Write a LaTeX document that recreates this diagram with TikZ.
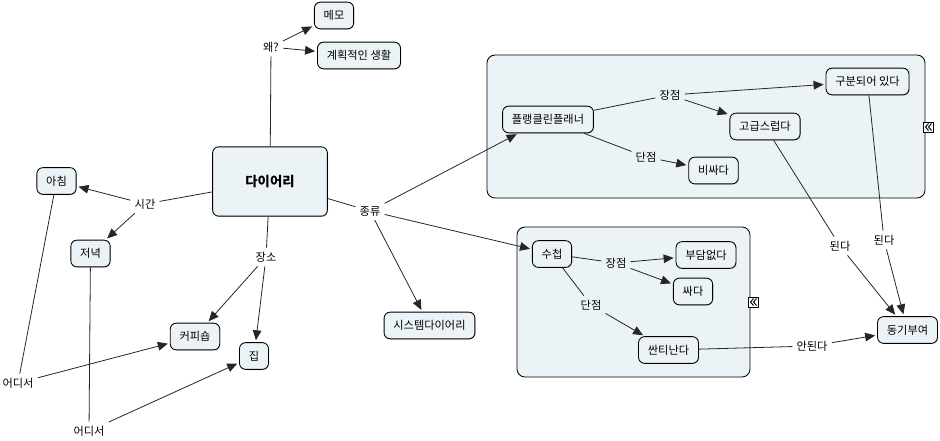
\documentclass[tikz,border=0pt]{standalone}
\usepackage{fontspec}
\newfontfamily\kr{Noto Sans CJK KR}
\usetikzlibrary{arrows.meta,shadows}
\definecolor{nfill}{RGB}{236,243,246}
\begin{document}
\begin{tikzpicture}[x=0.75pt,y=-0.75pt,
  cnode/.style={draw, fill=nfill, rounded corners=4.5pt, font=\kr\fontsize{8.4pt}{10pt}\selectfont, minimum height=20pt, inner xsep=7pt, inner ysep=2pt, line width=0.65pt, drop shadow={shadow xshift=0.6pt, shadow yshift=-0.6pt, opacity=0.3}},
  lbl/.style={font=\kr\fontsize{8.4pt}{10pt}\selectfont, inner sep=3pt},
  linkline/.style={line width=0.6pt, draw=black!85},
  linkarrow/.style={linkline, -{Triangle[length=7.5pt,width=6.5pt]}, shorten >=1.5pt},
  grpbox/.style={draw, fill=nfill, rounded corners=6pt, line width=0.65pt, inner sep=0pt},
  iconbox/.style={draw, fill=white, minimum size=7.5pt, inner sep=0pt, line width=0.5pt},
]
\useasboundingbox (0,0) rectangle (940,440);

% group boxes
\node[grpbox, minimum width=328.5pt, minimum height=107.25pt] (g1) at (706,126.5) {};
\node[grpbox, minimum width=174.75pt, minimum height=112.5pt] (g2) at (633.5,302) {};

% icons
\node[iconbox] (ic1) at (928,127) {};
\begin{scope}[shift={(928,127)}, line width=0.7pt]
  \draw (0.5,-3.5) -- (-2.5,0) -- (0.5,3.5);
  \draw (3.5,-3.5) -- (0.5,0) -- (3.5,3.5);
\end{scope}
\node[iconbox] (ic2) at (753,302) {};
\begin{scope}[shift={(753,302)}, line width=0.7pt]
  \draw (0.5,-3.5) -- (-2.5,0) -- (0.5,3.5);
  \draw (3.5,-3.5) -- (0.5,0) -- (3.5,3.5);
\end{scope}

% concept nodes
\node[cnode, font=\kr\bfseries\fontsize{10pt}{12pt}\selectfont, minimum width=86pt, minimum height=52pt] (diary) at (270,181.5) {다이어리};
\node[cnode] (memo) at (334,15.5) {메모};
\node[cnode] (plan) at (359,55.5) {계획적인 생활};
\node[cnode] (morning) at (56.5,181) {아침};
\node[cnode] (evening) at (90.5,253.5) {저녁};
\node[cnode] (coffee) at (195,336.5) {커피숍};
\node[cnode] (home) at (254,356) {집};
\node[cnode] (system) at (429.5,325.5) {시스템다이어리};
\node[cnode] (franklin) at (548,119.5) {플랭클린플래너};
\node[cnode] (separate) at (867.5,81.5) {구분되어 있다};
\node[cnode] (luxury) at (765,126.5) {고급스럽다};
\node[cnode] (expensive) at (713.5,170.5) {비싸다};
\node[cnode] (notebook) at (552,254) {수첩};
\node[cnode] (noburden) at (706,255) {부담없다};
\node[cnode] (cheap) at (693,291.5) {싸다};
\node[cnode] (cheaplook) at (668.5,350) {싼티난다};
\node[cnode] (motive) at (907.5,330) {동기부여};

% linking phrases
\node[lbl] (why) at (271,47) {왜?};
\node[lbl] (time) at (145,204) {시간};
\node[lbl] (place) at (266,257) {장소};
\node[lbl] (kind) at (370,211) {종류};
\node[lbl] (where1) at (18,383) {어디서};
\node[lbl] (where2) at (89,431) {어디서};
\node[lbl] (pro1) at (670,95) {장점};
\node[lbl] (con1) at (646,157) {단점};
\node[lbl] (pro2) at (616,263) {장점};
\node[lbl] (con2) at (591,305) {단점};
\node[lbl] (yes1) at (840,246) {된다};
\node[lbl] (yes2) at (884,240) {된다};
\node[lbl] (no1) at (812,346) {안된다};

% connectors
\draw[linkline] (diary) -- (why);
\draw[linkarrow] (why) -- (memo);
\draw[linkarrow] (why) -- (plan);

\draw[linkline] (diary) -- (time);
\draw[linkarrow] (time) -- (morning);
\draw[linkarrow] (time) -- (evening);

\draw[linkline] (diary) -- (place);
\draw[linkarrow] (place) -- (coffee);
\draw[linkarrow] (place) -- (home);

\draw[linkline] (diary) -- (kind);
\draw[linkarrow] (kind) -- (franklin.-155);
\draw[linkarrow] (kind) -- (notebook);
\draw[linkarrow] (kind) -- (system);

\draw[linkline] (morning) -- (where1);
\draw[linkarrow] (where1) -- (coffee);
\draw[linkline] (evening) -- (where2);
\draw[linkarrow] (where2) -- (home);

\draw[linkline] (franklin) -- (pro1);
\draw[linkarrow] (pro1) -- (separate);
\draw[linkarrow] (pro1) -- (luxury);
\draw[linkline] (franklin) -- (con1);
\draw[linkarrow] (con1) -- (expensive);

\draw[linkline] (notebook) -- (pro2);
\draw[linkarrow] (pro2) -- (noburden);
\draw[linkarrow] (pro2) -- (cheap);
\draw[linkline] (notebook) -- (con2);
\draw[linkarrow] (con2) -- (cheaplook);

\draw[linkline] (luxury) -- (yes1);
\draw[linkarrow] (yes1) -- (motive);
\draw[linkline] (separate) -- (yes2);
\draw[linkarrow] (yes2) -- (motive);
\draw[linkline] (cheaplook) -- (no1);
\draw[linkarrow] (no1) -- (motive);
\end{tikzpicture}
\end{document}
